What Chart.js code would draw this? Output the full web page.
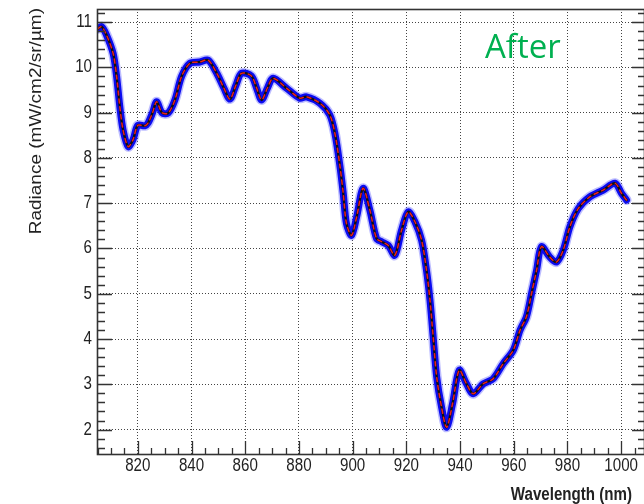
<!DOCTYPE html>
<html>
<head>
<meta charset="utf-8">
<script src="https://cdn.jsdelivr.net/npm/chart.js@4.4.1/dist/chart.umd.min.js"></script>
<style>
  html, body { margin: 0; padding: 0; background: #fff; }
</style>
</head>
<body>
<canvas id="radianceChart" width="644" height="504"></canvas>
<script>
// values
const wavelength = [
  805.0, 806.5, 808.3, 810.8, 812.1, 813.3, 814.5, 816.4, 818.2, 820.0,
  822.6, 823.8, 825.5, 827.0, 829.0, 831.3, 833.8, 836.3, 839.4, 843.1,
  846.2, 849.4, 852.0, 854.3, 856.5, 858.6, 862.3, 864.2, 866.1, 868.3,
  870.4, 875.4, 880.3, 882.8, 887.8, 891.5, 893.4, 895.2, 896.5, 897.7,
  899.6, 901.5, 903.9, 906.4, 908.9, 910.8, 913.2, 915.7, 918.2, 920.7,
  923.2, 925.7, 927.5, 928.8, 930.0, 931.3, 933.1, 935.0, 937.2, 939.7,
  942.4, 944.9, 948.6, 952.3, 956.1, 959.8, 962.3, 964.7, 966.6, 968.5,
  970.3, 973.4, 975.9, 978.4, 980.9, 984.0, 988.3, 993.3, 997.7, 1000.1,
  1002.0
];
const radiance = [
  10.85, 10.90, 10.72, 10.31, 9.80, 9.13, 8.62, 8.25, 8.40, 8.72,
  8.71, 8.77, 9.00, 9.24, 9.00, 8.99, 9.28, 9.80, 10.09, 10.12,
  10.16, 9.87, 9.55, 9.30, 9.60, 9.87, 9.81, 9.55, 9.28, 9.55,
  9.76, 9.54, 9.32, 9.35, 9.21, 8.95, 8.54, 7.85, 7.22, 6.55,
  6.29, 6.70, 7.33, 6.85, 6.22, 6.15, 6.07, 5.85, 6.40, 6.81,
  6.59, 6.18, 5.52, 4.86, 4.04, 3.16, 2.50, 2.05, 2.57, 3.31,
  3.01, 2.79, 3.01, 3.12, 3.46, 3.75, 4.19, 4.49, 5.00, 5.52,
  6.04, 5.81, 5.70, 5.96, 6.48, 6.88, 7.14, 7.29, 7.44, 7.22,
  7.07
];
const xTicks = [820, 840, 860, 880, 900, 920, 940, 960, 980, 1000];
const yTicks = [2, 3, 4, 5, 6, 7, 8, 9, 10, 11];
const xRange = [804.8, 1008.5];
const yRange = [1.46, 11.29];
const xTitle = 'Wavelength (nm)';
const yTitle = 'Radiance (mW/cm2/sr/\u00b5m)';
const label = 'After';

const FONT = "'Liberation Sans', Arial, sans-serif";
const SQUEEZE = 0.84; // the reference image is narrowed horizontally

function lineSet(color, width, dash) {
  return {
    data: wavelength.map((w, i) => ({ x: w, y: radiance[i] })),
    borderColor: color,
    borderWidth: width,
    borderDash: dash || [],
    borderJoinStyle: 'round',
    borderCapStyle: 'round',
    pointRadius: 0,
    tension: 0.3,
    fill: false
  };
}

function squeezedText(ctx, text, x, y, align) {
  ctx.save();
  ctx.translate(x, y);
  ctx.scale(SQUEEZE, 1);
  ctx.textAlign = align;
  ctx.fillText(text, 0, 0);
  ctx.restore();
}

// ROOT-like frame: inward ticks with minor ticks, tick labels, axis titles, label
const rootFrame = {
  id: 'rootFrame',
  afterDatasetsDraw(chart) {
    const { ctx, chartArea: a, scales } = chart;
    const xs = scales.x, ys = scales.y;
    ctx.save();
    ctx.strokeStyle = '#333';
    ctx.lineWidth = 1.3;
    ctx.beginPath();
    for (let v = Math.ceil(ys.min * 5); v <= ys.max * 5; v++) {
      const y = Math.round(ys.getPixelForValue(v / 5)) + 0.5;
      const major = v % 5 === 0;
      ctx.moveTo(a.left, y); ctx.lineTo(a.left + (major ? 15 : 8), y);
      ctx.moveTo(a.right, y); ctx.lineTo(a.right - (major ? 12 : 6), y);
    }
    for (let v = Math.ceil(xs.min / 5); v <= xs.max / 5; v++) {
      const x = Math.round(xs.getPixelForValue(v * 5)) + 0.5;
      const major = v % 4 === 0;
      ctx.moveTo(x, a.bottom); ctx.lineTo(x, a.bottom - (major ? 13 : 6));
    }
    ctx.stroke();
    ctx.lineWidth = 1.6;
    ctx.strokeRect(a.left + 0.5, a.top + 0.5, a.right - a.left, a.bottom - a.top);

    ctx.fillStyle = '#222';
    ctx.font = '18px ' + FONT;
    ctx.textBaseline = 'middle';
    xs.ticks.forEach(t => squeezedText(ctx, String(t.value), xs.getPixelForValue(t.value), a.bottom + 12, 'center'));
    ys.ticks.forEach(t => squeezedText(ctx, String(t.value), a.left - 5, ys.getPixelForValue(t.value), 'right'));
    ctx.restore();
  },
  afterDraw(chart) {
    const { ctx } = chart;
    ctx.save();
    ctx.fillStyle = '#222';
    ctx.font = 'bold 18px ' + FONT;
    ctx.textBaseline = 'alphabetic';
    squeezedText(ctx, xTitle, 632, 500, 'right');

    ctx.translate(37, 8);
    ctx.rotate(-Math.PI / 2);
    ctx.scale(1, SQUEEZE);
    ctx.font = '19px ' + FONT;
    ctx.textAlign = 'right';
    ctx.textBaseline = 'middle';
    ctx.fillText(yTitle, 0, 0);
    ctx.restore();

    ctx.save();
    ctx.fillStyle = '#00b050';
    ctx.font = "33px 'Open Sans', sans-serif";
    ctx.textAlign = 'left';
    ctx.textBaseline = 'alphabetic';
    ctx.fillText(label, 485, 58);
    ctx.restore();
  }
};

new Chart(document.getElementById('radianceChart'), {
  type: 'line',
  data: {
    // dataset 0 is painted on top
    datasets: [
      lineSet('#e8201c', 1.5, [4, 4]),
      lineSet('#111', 2.4),
      lineSet('#0b0bf0', 7),
      lineSet('rgba(90, 90, 255, 0.4)', 10)
    ]
  },
  options: {
    responsive: false,
    animation: false,
    events: [],
    layout: { padding: { top: 9, right: 0, left: 0, bottom: 0 } },
    plugins: { legend: { display: false }, tooltip: { enabled: false } },
    scales: {
      x: {
        type: 'linear',
        min: xRange[0],
        max: xRange[1],
        afterBuildTicks: s => { s.ticks = xTicks.map(v => ({ value: v })); },
        afterFit: s => { s.height = 50; },
        grid: { color: '#444', lineWidth: 1, drawTicks: false },
        border: { display: false, dash: [1, 2] },
        ticks: { display: false }
      },
      y: {
        min: yRange[0],
        max: yRange[1],
        afterBuildTicks: s => { s.ticks = yTicks.map(v => ({ value: v })); },
        afterFit: s => { s.width = 97; },
        grid: { color: '#444', lineWidth: 1, drawTicks: false },
        border: { display: false, dash: [1, 2] },
        ticks: { display: false }
      }
    }
  },
  plugins: [rootFrame]
});
</script>
</body>
</html>
